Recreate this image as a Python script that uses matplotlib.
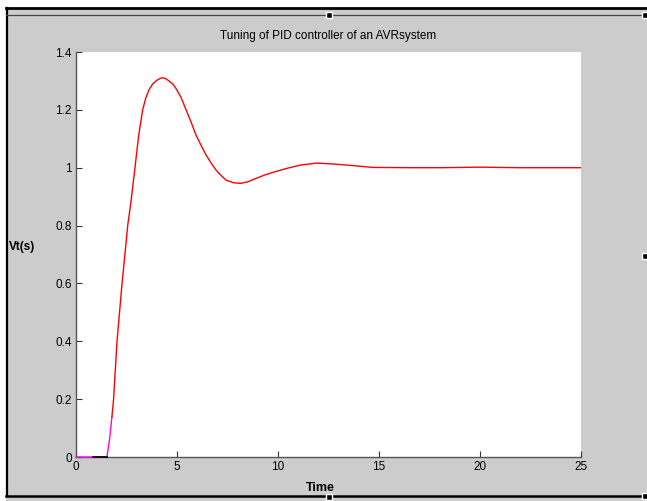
"""Step response of a PID-tuned AVR system, redrawn in the old MATLAB look."""
import matplotlib.pyplot as plt
from matplotlib.patches import Rectangle
from matplotlib.lines import Line2D

plt.rcParams['font.family'] = ['Liberation Sans', 'DejaVu Sans']

# dead-time part of the response (magenta trace)
t_delay = [0.0, 0.85, 1.53, 1.66, 1.78]
v_delay = [0.0, 0.0, 0.0, 0.06, 0.14]

# main response (red trace)
t_resp = [1.78, 1.86, 2.03, 2.28, 2.56, 2.72, 2.92, 3.10, 3.30, 3.45, 3.62,
          3.80, 4.00, 4.15, 4.26, 4.42, 4.60, 4.78, 4.95, 5.20, 5.45, 5.70,
          5.94, 6.20, 6.44, 6.70, 6.93, 7.20, 7.43, 7.80, 8.15, 8.50, 8.91,
          9.35, 9.80, 10.4, 11.1, 11.9, 12.7, 13.6, 14.7, 16.7, 18.0, 20.0,
          22.0, 25.0]
v_resp = [0.14, 0.20, 0.40, 0.60, 0.80, 0.882, 1.00, 1.11, 1.20, 1.24, 1.27,
          1.29, 1.302, 1.308, 1.311, 1.309, 1.300, 1.290, 1.274, 1.243, 1.20,
          1.157, 1.113, 1.076, 1.044, 1.015, 0.992, 0.972, 0.957, 0.948, 0.946,
          0.951, 0.963, 0.975, 0.985, 0.997, 1.009, 1.016, 1.013, 1.008, 1.001,
          1.0, 1.0, 1.002, 1.0, 1.0]

x_ticks = [0, 5, 10, 15, 20, 25]
y_ticks = [0, 0.2, 0.4, 0.6, 0.8, 1, 1.2, 1.4]
y_tick_labels = ["0", "0.2", "0.4", "0.6", "0.8", "1", "1.2", "1.4"]

W, H = 647, 501
fig = plt.figure(figsize=(W / 100, H / 100), dpi=100, facecolor="white")

# grey window background with its frame lines
fig.patches.append(Rectangle((6 / W, 0), 1 - 6 / W, (H - 8) / H,
                             transform=fig.transFigure, facecolor="#cccccc",
                             edgecolor="none", zorder=-10))
frame = [((6 / W, 1), ((H - 8) / H, (H - 8) / H), 2.0, "black"),
         ((7 / W, 7 / W), (0.01, (H - 8) / H), 1.6, "black"),
         ((6 / W, 1), ((H - 15) / H, (H - 15) / H), 0.9, "#444444"),
         ((6 / W, 1), ((H - 496) / H, (H - 496) / H), 1.8, "black")]
for xs, ys, lw, col in frame:
    fig.lines.append(Line2D(xs, ys, transform=fig.transFigure,
                            linewidth=lw, color=col))
for px, py in [(329, 15), (645, 15), (645, 256), (329, 497), (645, 496)]:
    fig.lines.append(Line2D([px / W], [(H - py) / H], transform=fig.transFigure,
                            marker="s", markersize=4.5, color="black",
                            markeredgecolor="white", linestyle="none"))

ax = fig.add_axes([76 / W, 44 / H, (581 - 76) / W, (457 - 52) / H])
ax.set_facecolor("white")
ax.plot(t_delay, v_delay, color="magenta", linewidth=1.0, clip_on=False, zorder=4)
ax.plot([0.85, 1.53], [0.0, 0.0], color="black", linewidth=1.2, clip_on=False, zorder=5)
ax.plot(t_resp, v_resp, color="red", linewidth=1.0, zorder=4)

ax.set_xlim(0, 25)
ax.set_ylim(0, 1.4)
ax.set_xticks(x_ticks)
ax.set_yticks(y_ticks)
ax.set_yticklabels(y_tick_labels)
for side in ("top", "right"):
    ax.spines[side].set_visible(False)
for side in ("left", "bottom"):
    ax.spines[side].set_color("#555555")
    ax.spines[side].set_linewidth(1.0)
ax.tick_params(direction="in", length=4, width=0.8, color="#333333",
               labelsize=8.5, pad=3)

ax.set_title("Tuning of PID controller of an AVRsystem", fontsize=8.5, pad=9)
fig.text(9 / W, (H - 247) / H, "Vt(s)", fontsize=8.5, fontweight="bold",
         ha="left", va="center")
fig.text(320 / W, (H - 488) / H, "Time", fontsize=9, fontweight="bold",
         ha="center", va="center")

fig.savefig("out.png", dpi=100)
